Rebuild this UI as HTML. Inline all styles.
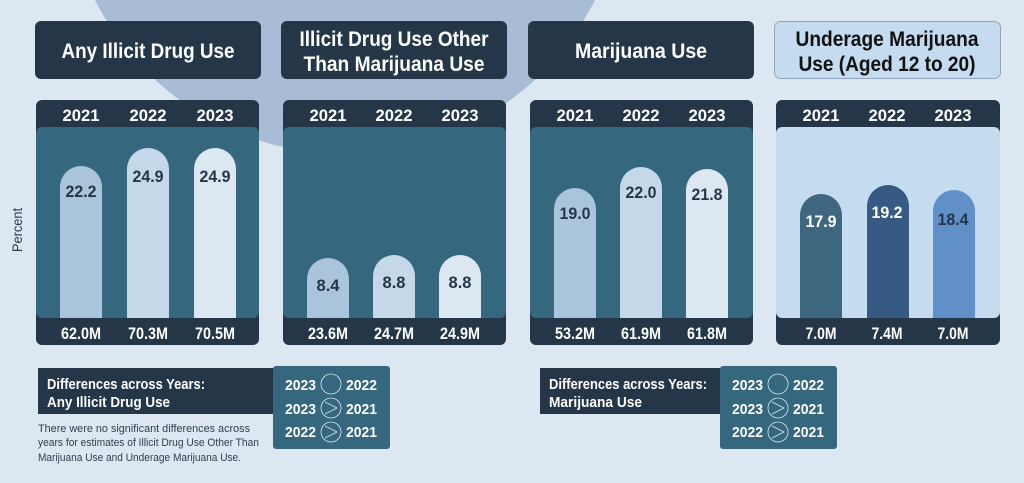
<!DOCTYPE html>
<html><head><meta charset="utf-8"><style>
html,body{margin:0;padding:0;background:#dde7f1;}
svg{display:block}
text{font-family:"Liberation Sans Narrow","Liberation Sans",sans-serif;font-weight:bold}
</style></head><body>
<svg width="1024" height="483" viewBox="0 0 1024 483" xmlns="http://www.w3.org/2000/svg">
<rect width="1024" height="483" fill="#dde7f1"/>
<circle cx="345" cy="-126" r="280" fill="#a9bcd6"/>
<text transform="translate(22,230) rotate(-90)" font-size="14" fill="#2a3a4c" text-anchor="middle" textLength="44" lengthAdjust="spacingAndGlyphs" style="font-weight:normal">Percent</text>

<rect x="35" y="21" width="226" height="58" rx="6" fill="#243648"/>
<text x="148" y="58" font-size="21" fill="#fff" text-anchor="middle" textLength="173" lengthAdjust="spacingAndGlyphs">Any Illicit Drug Use</text>
<rect x="281" y="21" width="226" height="58" rx="6" fill="#243648"/>
<text x="394" y="46" font-size="21" fill="#fff" text-anchor="middle" textLength="189" lengthAdjust="spacingAndGlyphs">Illicit Drug Use Other</text>
<text x="394" y="71" font-size="21" fill="#fff" text-anchor="middle" textLength="181" lengthAdjust="spacingAndGlyphs">Than Marijuana Use</text>
<rect x="528" y="21" width="226" height="58" rx="6" fill="#243648"/>
<text x="641" y="58" font-size="21" fill="#fff" text-anchor="middle" textLength="132" lengthAdjust="spacingAndGlyphs">Marijuana Use</text>
<rect x="774.5" y="21.5" width="226" height="57" rx="6" fill="#c5dbef" stroke="#8fa4b8"/>
<text x="887" y="46" font-size="21" fill="#111" text-anchor="middle" textLength="183" lengthAdjust="spacingAndGlyphs">Underage Marijuana</text>
<text x="887" y="71" font-size="21" fill="#111" text-anchor="middle" textLength="177" lengthAdjust="spacingAndGlyphs">Use (Aged 12 to 20)</text>

<rect x="36" y="100" width="223" height="245" rx="6" fill="#243648"/>
<rect x="36" y="127" width="223" height="191" rx="6" fill="#35677f"/>
<rect x="283" y="100" width="223" height="245" rx="6" fill="#243648"/>
<rect x="283" y="127" width="223" height="191" rx="6" fill="#35677f"/>
<rect x="530" y="100" width="223" height="245" rx="6" fill="#243648"/>
<rect x="530" y="127" width="223" height="191" rx="6" fill="#35677f"/>
<rect x="776" y="100" width="224" height="245" rx="6" fill="#243648"/>
<rect x="776" y="127" width="224" height="191" rx="6" fill="#c5dbef"/>

<g font-size="17" fill="#fff" text-anchor="middle" lengthAdjust="spacingAndGlyphs">
<text x="81" y="121" textLength="37" lengthAdjust="spacingAndGlyphs">2021</text><text x="148" y="121" textLength="37" lengthAdjust="spacingAndGlyphs">2022</text><text x="215" y="121" textLength="37" lengthAdjust="spacingAndGlyphs">2023</text>
<text x="328" y="121" textLength="37" lengthAdjust="spacingAndGlyphs">2021</text><text x="394" y="121" textLength="37" lengthAdjust="spacingAndGlyphs">2022</text><text x="460" y="121" textLength="37" lengthAdjust="spacingAndGlyphs">2023</text>
<text x="575" y="121" textLength="37" lengthAdjust="spacingAndGlyphs">2021</text><text x="641" y="121" textLength="37" lengthAdjust="spacingAndGlyphs">2022</text><text x="707" y="121" textLength="37" lengthAdjust="spacingAndGlyphs">2023</text>
<text x="821" y="121" textLength="37" lengthAdjust="spacingAndGlyphs">2021</text><text x="887" y="121" textLength="37" lengthAdjust="spacingAndGlyphs">2022</text><text x="953" y="121" textLength="37" lengthAdjust="spacingAndGlyphs">2023</text>
<text x="81" y="339" textLength="40" lengthAdjust="spacingAndGlyphs">62.0M</text><text x="148" y="339" textLength="40" lengthAdjust="spacingAndGlyphs">70.3M</text><text x="215" y="339" textLength="40" lengthAdjust="spacingAndGlyphs">70.5M</text>
<text x="328" y="339" textLength="40" lengthAdjust="spacingAndGlyphs">23.6M</text><text x="394" y="339" textLength="40" lengthAdjust="spacingAndGlyphs">24.7M</text><text x="460" y="339" textLength="40" lengthAdjust="spacingAndGlyphs">24.9M</text>
<text x="575" y="339" textLength="40" lengthAdjust="spacingAndGlyphs">53.2M</text><text x="641" y="339" textLength="40" lengthAdjust="spacingAndGlyphs">61.9M</text><text x="707" y="339" textLength="40" lengthAdjust="spacingAndGlyphs">61.8M</text>
<text x="821" y="339" textLength="31" lengthAdjust="spacingAndGlyphs">7.0M</text><text x="887" y="339" textLength="31" lengthAdjust="spacingAndGlyphs">7.4M</text><text x="953" y="339" textLength="31" lengthAdjust="spacingAndGlyphs">7.0M</text>
</g>

<g>
<path d="M60,318 V187 A21,21 0 0 1 102,187 V318Z" fill="#aac4dc"/>
<path d="M127,318 V169 A21,21 0 0 1 169,169 V318Z" fill="#c5d8ea"/>
<path d="M194,318 V169 A21,21 0 0 1 236,169 V318Z" fill="#dde7f2"/>
<path d="M307,318 V279 A21,21 0 0 1 349,279 V318Z" fill="#aac4dc"/>
<path d="M373,318 V276 A21,21 0 0 1 415,276 V318Z" fill="#c5d8ea"/>
<path d="M439,318 V276 A21,21 0 0 1 481,276 V318Z" fill="#dde7f2"/>
<path d="M554,318 V209 A21,21 0 0 1 596,209 V318Z" fill="#aac4dc"/>
<path d="M620,318 V188 A21,21 0 0 1 662,188 V318Z" fill="#c5d8ea"/>
<path d="M686,318 V190 A21,21 0 0 1 728,190 V318Z" fill="#dde7f2"/>
<path d="M800,318 V215 A21,21 0 0 1 842,215 V318Z" fill="#3f6880"/>
<path d="M867,318 V206 A21,21 0 0 1 909,206 V318Z" fill="#375a85"/>
<path d="M933,318 V211 A21,21 0 0 1 975,211 V318Z" fill="#6190c8"/>
</g>
<g font-size="17" fill="#243648" text-anchor="middle">
<text x="81" y="197" textLength="31" lengthAdjust="spacingAndGlyphs">22.2</text><text x="148" y="182" textLength="31" lengthAdjust="spacingAndGlyphs">24.9</text><text x="215" y="182" textLength="31" lengthAdjust="spacingAndGlyphs">24.9</text>
<text x="328" y="291" textLength="23" lengthAdjust="spacingAndGlyphs">8.4</text><text x="394" y="288" textLength="23" lengthAdjust="spacingAndGlyphs">8.8</text><text x="460" y="288" textLength="23" lengthAdjust="spacingAndGlyphs">8.8</text>
<text x="575" y="219" textLength="31" lengthAdjust="spacingAndGlyphs">19.0</text><text x="641" y="198" textLength="31" lengthAdjust="spacingAndGlyphs">22.0</text><text x="707" y="200" textLength="31" lengthAdjust="spacingAndGlyphs">21.8</text>
<text x="821" y="227" fill="#fff" textLength="31" lengthAdjust="spacingAndGlyphs">17.9</text><text x="887" y="218" fill="#fff" textLength="31" lengthAdjust="spacingAndGlyphs">19.2</text><text x="953" y="225" textLength="31" lengthAdjust="spacingAndGlyphs">18.4</text>
</g>

<rect x="38" y="368" width="236" height="46" fill="#243648"/>
<text x="47" y="389" font-size="15" fill="#fff" textLength="158" lengthAdjust="spacingAndGlyphs">Differences across Years:</text>
<text x="47" y="407" font-size="15" fill="#fff" textLength="123" lengthAdjust="spacingAndGlyphs">Any Illicit Drug Use</text>
<rect x="273" y="366" width="117" height="83" rx="3" fill="#35677f"/>
<g font-size="15" fill="#fff">
<text x="285" y="390" textLength="31" lengthAdjust="spacingAndGlyphs">2023</text><text x="346" y="390" textLength="31" lengthAdjust="spacingAndGlyphs">2022</text>
<text x="285" y="414" textLength="31" lengthAdjust="spacingAndGlyphs">2023</text><text x="346" y="414" textLength="31" lengthAdjust="spacingAndGlyphs">2021</text>
<text x="285" y="437" textLength="31" lengthAdjust="spacingAndGlyphs">2022</text><text x="346" y="437" textLength="31" lengthAdjust="spacingAndGlyphs">2021</text>
</g>
<g fill="none" stroke="#dde7f1" stroke-width="0.8">
<circle cx="331" cy="384" r="10"/><circle cx="331" cy="408" r="10"/><circle cx="331" cy="432" r="10"/>
<path d="M325,402 L337,408 L325,414"/><path d="M325,426 L337,432 L325,438"/>
</g>
<g font-size="11" fill="#2f4050">
<text x="38" y="432" style="font-weight:normal" textLength="212" lengthAdjust="spacingAndGlyphs">There were no significant differences across</text>
<text x="38" y="446" style="font-weight:normal" textLength="221" lengthAdjust="spacingAndGlyphs">years for estimates of Illicit Drug Use Other Than</text>
<text x="38" y="461" style="font-weight:normal" textLength="203" lengthAdjust="spacingAndGlyphs">Marijuana Use and Underage Marijuana Use.</text>
</g>

<rect x="540" y="368" width="182" height="46" fill="#243648"/>
<text x="549" y="389" font-size="15" fill="#fff" textLength="158" lengthAdjust="spacingAndGlyphs">Differences across Years:</text>
<text x="549" y="407" font-size="15" fill="#fff" textLength="93" lengthAdjust="spacingAndGlyphs">Marijuana Use</text>
<rect x="720" y="366" width="117" height="83" rx="3" fill="#35677f"/>
<g font-size="15" fill="#fff">
<text x="732" y="390" textLength="31" lengthAdjust="spacingAndGlyphs">2023</text><text x="793" y="390" textLength="31" lengthAdjust="spacingAndGlyphs">2022</text>
<text x="732" y="414" textLength="31" lengthAdjust="spacingAndGlyphs">2023</text><text x="793" y="414" textLength="31" lengthAdjust="spacingAndGlyphs">2021</text>
<text x="732" y="437" textLength="31" lengthAdjust="spacingAndGlyphs">2022</text><text x="793" y="437" textLength="31" lengthAdjust="spacingAndGlyphs">2021</text>
</g>
<g fill="none" stroke="#dde7f1" stroke-width="0.8">
<circle cx="778" cy="384" r="10"/><circle cx="778" cy="408" r="10"/><circle cx="778" cy="432" r="10"/>
<path d="M772,402 L784,408 L772,414"/><path d="M772,426 L784,432 L772,438"/>
</g>
</svg>
</body></html>
